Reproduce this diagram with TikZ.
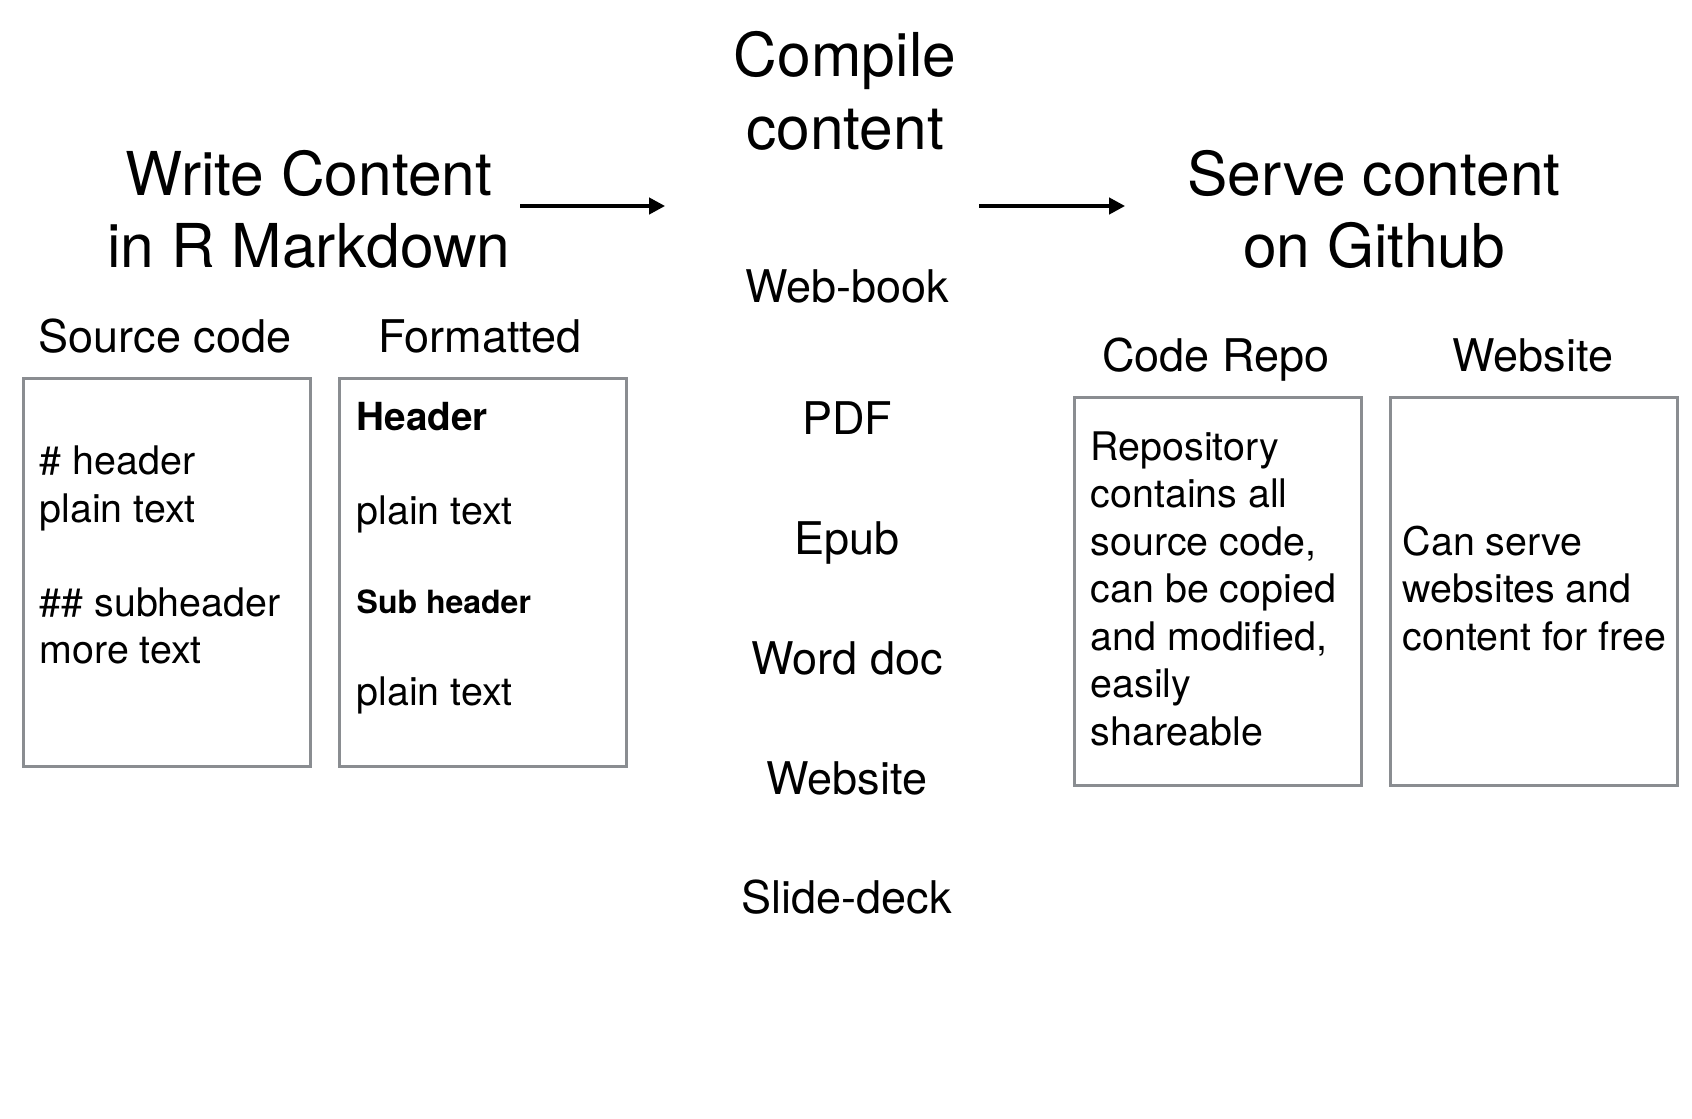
\documentclass[tikz,border=0pt]{standalone}
\usepackage{fontspec}
\setmainfont{TeX Gyre Heros}
\usetikzlibrary{arrows.meta}
\definecolor{boxgray}{HTML}{8A8D91}
\begin{document}
\begin{tikzpicture}[x=0.01cm, y=-0.01cm,
    big/.style={font=\fontsize{17.2}{21}\selectfont, inner sep=0pt, anchor=base},
    mid/.style={font=\fontsize{12.8}{16}\selectfont, inner sep=0pt, anchor=base},
    txt/.style={font=\fontsize{11.2}{13.5}\selectfont, inner sep=0pt, anchor=base west},
    frame/.style={draw=boxgray, line width=0.85pt, inner sep=0pt, anchor=north west,
        minimum width=2.87cm, minimum height=3.88cm},
    flow/.style={-{Triangle[length=4.5pt,width=4.6pt]}, line width=0.95pt}]
        \useasboundingbox (0,0) rectangle (1692,1118);
        % headings
        \node [big] (write1) at (309,195) {Write Content};
        \node [big] (write2) at (309,267) {in R Markdown};
        \node [big] (comp1) at (845,76) {Compile};
        \node [big] (comp2) at (845,149) {content};
        \node [big] (serve1) at (1374,195) {Serve content};
        \node [big] (serve2) at (1374,267) {on Github};
        \coordinate (a1s) at (520,206);
        \coordinate (a1e) at (665,206);
        \coordinate (a2s) at (979,206);
        \coordinate (a2e) at (1125,206);
        \draw [flow] (a1s) -- (a1e);
        \draw [flow] (a2s) -- (a2e);
        % output formats
        \node [mid] (webbook) at (847,302) {Web-book};
        \node [mid] (pdf) at (847,434) {PDF};
        \node [mid] (epub) at (847,554) {Epub};
        \node [mid] (word) at (847,674) {Word doc};
        \node [mid] (site) at (847,794) {Website};
        \node [mid] (slides) at (847,913) {Slide-deck};
        % left boxes
        \node [mid] (srclab) at (165,352) {Source code};
        \node [mid] (fmtlab) at (480,352) {Formatted};
        \node [frame] (srcbox) at (22,377) {};
        \node [frame] (fmtbox) at (338,377) {};
        \node [txt] (s1) at (39,474) {\# header};
        \node [txt] (s2) at (39,522) {plain text};
        \node [txt] (s3) at (39,616) {\#\# subheader};
        \node [txt] (s4) at (39,663) {more text};
        \node [txt, font=\fontsize{11}{13}\selectfont\bfseries] (f1) at (356,430) {Header};
        \node [txt] (f2) at (356,524) {plain text};
        \node [txt, font=\fontsize{9.1}{11}\selectfont\bfseries] (f3) at (356,613) {Sub header};
        \node [txt] (f4) at (356,705) {plain text};
        % right boxes
        \node [mid] (repolab) at (1216,371) {Code Repo};
        \node [mid] (weblab) at (1533,371) {Website};
        \node [frame] (repobox) at (1073,396) {};
        \node [frame] (webbox) at (1389,396) {};
        \foreach \l [count=\i from 0] in {Repository, contains all, {source code,},
            can be copied, {and modified,}, easily, shareable}
            \node [txt] (r\i) at (1090, 460+47.5*\i) {\l};
        \foreach \l [count=\i from 0] in {Can serve, websites and, content for free}
            \node [txt] (w\i) at (1402, 555+47.5*\i) {\l};
\end{tikzpicture}
\end{document}
